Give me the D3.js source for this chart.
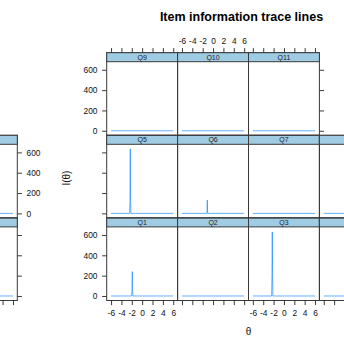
<!DOCTYPE html>
<html>
<head>
<meta charset="utf-8">
<script src="https://cdn.jsdelivr.net/npm/d3@7"></script>
<style>
  body { margin: 0; background: #fff; }
  svg { display: block; }
  text { font-family: "Liberation Sans", Arial, Helvetica, sans-serif; }
</style>
</head>
<body>
<svg id="chart" width="344" height="338"></svg>
<script>
// ---- data -------------------------------------------------------------
const itemNames = ["Q1", "Q2", "Q3", "Q4", "Q5", "Q6", "Q7", "Q8", "Q9", "Q10", "Q11"];
const thetaTicks = [-6, -4, -2, 0, 2, 4, 6];
const infoTicks = [0, 200, 400, 600];
const thetaLimits = [-6, 6];

// item information I(theta), as [theta, information] pairs
const curveQ1  = [[-6, 0], [-2.02, 0], [-1.96, 60], [-1.93, 180], [-1.90, 240], [-1.87, 180], [-1.84, 60], [-1.78, 0], [6, 0]];
const curveQ2  = [[-6, 0], [6, 0]];
const curveQ3  = [[-6, 0], [-2.37, 0], [-2.31, 200], [-2.28, 450], [-2.25, 630], [-2.22, 450], [-2.19, 200], [-2.13, 0], [6, 0]];
const curveQ4  = [[-6, 0], [6, 0]];
const curveQ5  = [[-6, 0], [-2.41, 0], [-2.35, 130], [-2.32, 330], [-2.29, 635], [-2.26, 330], [-2.23, 130], [-2.17, 0], [6, 0]];
const curveQ6  = [[-6, 0], [-1.20, 0], [-1.15, 40], [-1.13, 100], [-1.11, 130], [-1.09, 100], [-1.07, 40], [-1.02, 0], [6, 0]];
const curveQ7  = [[-6, 0], [6, 0]];
const curveQ8  = [[-6, 0], [6, 0]];
const curveQ9  = [[-6, 0], [6, 0]];
const curveQ10 = [[-6, 0], [6, 0]];
const curveQ11 = [[-6, 0], [6, 0]];
const curves = [curveQ1, curveQ2, curveQ3, curveQ4, curveQ5, curveQ6,
                curveQ7, curveQ8, curveQ9, curveQ10, curveQ11];

// ---- layout -----------------------------------------------------------
const nCols = 4, nRows = 3;
const gridLeft = 106.7, colW = 70.9;
const gridTop = 52.7, rowPitch = 82.6, stripH = 9;
const tickLen = 4.6, labelGap = 4.6;
const fs = 8.4;
const lineColor = "#0080ff";
const stripFill = "#9fcbe3";
const frameColor = "#3a3a3a";
const plain = d => String(d);   // hyphen-minus labels
const blank = () => "";

const svg = d3.select("#chart");

// lattice-style 7% padding on both scales
function padded(lo, hi) { const r = hi - lo; return [lo - 0.07 * r, hi + 0.07 * r]; }
const infoMax = d3.max(curves, c => d3.max(c, d => d[1]));
const xDomain = padded(thetaLimits[0], thetaLimits[1]);
const yDomain = padded(0, infoMax);

function colLeft(c) { return gridLeft + c * colW; }
function rowTop(rFromTop) { return gridTop + rFromTop * rowPitch; }

function styleAxis(a) {
  a.select(".domain").remove();
  a.selectAll("line").attr("stroke", frameColor);
  a.selectAll("text").attr("font-size", fs).attr("fill", "#111").attr("font-family", null);
}

function drawLattice(g, tag) {
  // panels
  itemNames.forEach((name, i) => {
    const col = i % nCols, row = Math.floor(i / nCols);
    const rTop = rowTop(nRows - 1 - row);
    const x0 = colLeft(col), x1 = x0 + colW;
    const pTop = rTop + stripH, pBot = rTop + rowPitch;
    const x = d3.scaleLinear().domain(xDomain).range([x0, x1]);
    const y = d3.scaleLinear().domain(yDomain).range([pBot, pTop]);

    const clipId = "clip-" + tag + "-" + i;
    g.append("clipPath").attr("id", clipId)
      .append("rect").attr("x", x0).attr("y", pTop).attr("width", colW).attr("height", pBot - pTop);

    g.append("path")
      .datum(curves[i])
      .attr("clip-path", `url(#${clipId})`)
      .attr("fill", "none")
      .attr("stroke", lineColor)
      .attr("stroke-opacity", 0.62)
      .attr("stroke-width", 1)
      .attr("d", d3.line().x(d => x(d[0])).y(d => y(d[1])));

    g.append("rect")
      .attr("x", x0).attr("y", rTop).attr("width", colW).attr("height", rowPitch)
      .attr("fill", "none").attr("stroke", frameColor).attr("stroke-width", 1);
    g.append("rect")
      .attr("x", x0).attr("y", rTop).attr("width", colW).attr("height", stripH)
      .attr("fill", stripFill).attr("stroke", frameColor).attr("stroke-width", 1);
    g.append("text")
      .attr("x", (x0 + x1) / 2).attr("y", rTop + stripH - 1.9)
      .attr("text-anchor", "middle").attr("font-size", 7).attr("fill", "#222")
      .text(name);
  });

  // y axes: left on first column, right on the last panel of each row
  for (let row = 0; row < nRows; row++) {
    const rTop = rowTop(nRows - 1 - row);
    const y = d3.scaleLinear().domain(yDomain).range([rTop + rowPitch, rTop + stripH]);
    const lastIdx = Math.min(itemNames.length - 1, row * nCols + nCols - 1);
    const rightX = colLeft(lastIdx % nCols) + colW;
    const labelLeft = row % 2 === 0;

    const left = g.append("g").attr("transform", `translate(${gridLeft},0)`)
      .call(d3.axisLeft(y).tickValues(infoTicks).tickSize(tickLen).tickPadding(labelGap)
        .tickFormat(labelLeft ? plain : blank));
    const right = g.append("g").attr("transform", `translate(${rightX},0)`)
      .call(d3.axisRight(y).tickValues(infoTicks).tickSize(tickLen).tickPadding(labelGap)
        .tickFormat(labelLeft ? blank : plain));
    styleAxis(left);
    styleAxis(right);
  }

  // x axes: bottom under every column, top above the columns of the top row
  const bottomY = rowTop(nRows);
  for (let col = 0; col < nCols; col++) {
    const x = d3.scaleLinear().domain(xDomain).range([colLeft(col), colLeft(col) + colW]);
    const bottom = g.append("g").attr("transform", `translate(0,${bottomY})`)
      .call(d3.axisBottom(x).tickValues(thetaTicks).tickSize(tickLen).tickPadding(labelGap + 0.4)
        .tickFormat(col % 2 === 0 ? plain : blank));
    styleAxis(bottom);
    const topIdx = (nRows - 1) * nCols + col;
    if (topIdx < itemNames.length) {
      const top = g.append("g").attr("transform", `translate(0,${gridTop})`)
        .call(d3.axisTop(x).tickValues(thetaTicks).tickSize(tickLen).tickPadding(labelGap - 0.6)
          .tickFormat(col % 2 === 1 ? plain : blank));
      styleAxis(top);
    }
  }

  // titles
  g.append("text")
    .attr("x", 241.5).attr("y", 21)
    .attr("text-anchor", "middle").attr("font-size", 12.5).attr("font-weight", "bold")
    .attr("fill", "#000")
    .text("Item information trace lines");
  g.append("text")
    .attr("x", (gridLeft + colLeft(nCols)) / 2).attr("y", 335)
    .attr("text-anchor", "middle").attr("font-size", 10).attr("fill", "#111")
    .text("θ");
  g.append("text")
    .attr("transform", `translate(70,${(gridTop + rowTop(nRows)) / 2 + 1.5}) rotate(-90)`)
    .attr("text-anchor", "middle").attr("font-size", 10).attr("fill", "#111")
    .text("I(θ)");
}

// the lattice is drawn in place, and its right-hand column repeats at the left edge
const main = svg.append("g");
drawLattice(main, "a");
const wrapped = svg.append("g").attr("transform", "translate(-373,0)");
drawLattice(wrapped, "b");
</script>
</body>
</html>
